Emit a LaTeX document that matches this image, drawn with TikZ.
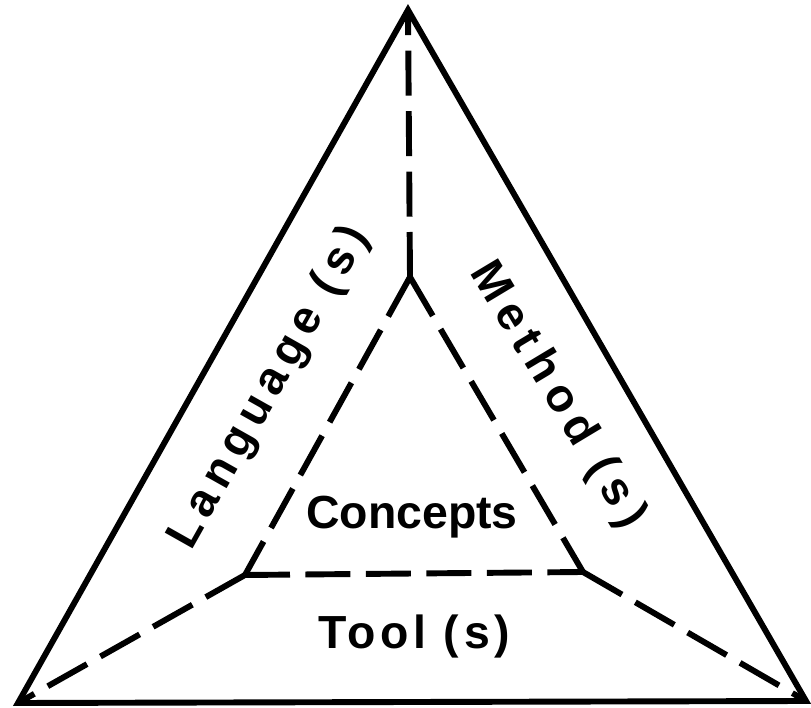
\documentclass[tikz,border=0pt]{standalone}
\usepackage{fontspec}
\setmainfont{Liberation Sans}
\usepackage{tikz}

\tikzset{
    edgeline/.style={line width=4.2pt, line join=miter},
    linkline/.style={line width=4.2pt, dash pattern=on 32pt off 11pt},
    facelabel/.style={font=\fontsize{33}{36}\selectfont\bfseries, inner sep=0pt},
    widelabel/.style={font=\fontsize{33}{36}\selectfont\bfseries\addfontfeatures{LetterSpace=#1}, inner sep=0pt}
}

\begin{document}
\begin{tikzpicture}[x=0.025cm, y=-0.025cm]
        \useasboundingbox (0,0) rectangle (811,708);
        % Outer and inner corners
        \coordinate (apex) at (408,10);
        \coordinate (left) at (18,703);
        \coordinate (right) at (806,701);
        \coordinate (itop) at (410,277);
        \coordinate (ileft) at (245,575);
        \coordinate (iright) at (583,572);

        % Draw outer triangle
        \draw[edgeline] (apex) -- (left) -- (right) -- cycle;

        % Draw inner triangle and the links to the outer corners
        \draw[linkline] (ileft) -- (iright);
        \foreach \a/\b in {itop/ileft, itop/iright, itop/apex, ileft/left, iright/right} {
            \draw[linkline] (\a) -- (\b);
        }

        % Labels of the faces
        \node[facelabel] (concepts) at (412,517) {Concepts};
        \node[widelabel=10] (tools) at (414,637) {Tool (s)};
        \node[widelabel=16, rotate=60.6] (languages) at (270,388) {Language (s)};
        \node[widelabel=18, rotate=-59] (methods) at (557,395) {Method (s)};
    \end{tikzpicture}
\end{document}
